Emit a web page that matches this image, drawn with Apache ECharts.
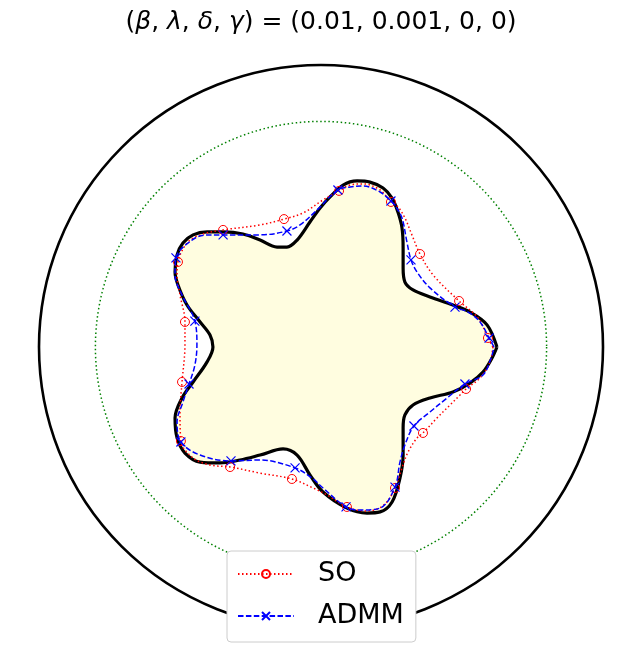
<!DOCTYPE html>
<html>
<head>
<meta charset="utf-8">
<script src="https://cdn.jsdelivr.net/npm/echarts@6.0.0/dist/echarts.min.js"></script>
<style>
  html, body { margin: 0; padding: 0; background: #fff; }
  #chart { width: 642px; height: 667px; }
</style>
</head>
<body>
<div id="chart"></div>
<script>
// parameters shown in the title
const paramNames = ['β', 'λ', 'δ', 'γ']
const paramValues = ['0.01', '0.001', '0', '0']

// circles (green dotted = 1, outer black = 1.25)
const innerRadius = 1
const outerRadius = 1.25

// target shape boundary, x / y in units of the green circle
const targetX = [0.780, 0.736, 0.660, 0.585, 0.483, 0.408, 0.372, 0.364, 0.364, 0.359, 0.341, 0.315, 0.275, 0.217, 0.160, 0.098,
  0.040, -0.004, -0.049, -0.106, -0.151, -0.195, -0.270, -0.346, -0.434, -0.505, -0.567, -0.612, -0.638, -0.647, -0.634, -0.594,
  -0.536, -0.492, -0.479, -0.505, -0.567, -0.616, -0.647, -0.638, -0.603, -0.536, -0.448, -0.359, -0.270, -0.168, -0.106, -0.049,
  0.009, 0.115, 0.204, 0.262, 0.315, 0.350, 0.364, 0.364, 0.372, 0.408, 0.483, 0.585, 0.660, 0.718, 0.758]
const targetY = [0, 0.098, 0.155, 0.186, 0.222, 0.253, 0.288, 0.350, 0.439, 0.528, 0.598, 0.660, 0.705, 0.731, 0.736, 0.718,
  0.665, 0.616, 0.554, 0.474, 0.443, 0.443, 0.474, 0.501, 0.510, 0.510, 0.497, 0.461, 0.408, 0.332, 0.275, 0.186,
  0.111, 0.053, 0, -0.066, -0.155, -0.226, -0.315, -0.403, -0.470, -0.510, -0.514, -0.501, -0.479, -0.452, -0.479, -0.567,
  -0.643, -0.714, -0.736, -0.731, -0.687, -0.581, -0.479, -0.359, -0.301, -0.257, -0.226, -0.199, -0.160, -0.111, -0.049]

// SO result
const soX = [0.762, 0.740, 0.696, 0.612, 0.497, 0.439, 0.403, 0.372, 0.341, 0.310, 0.262, 0.186, 0.129, 0.080, 0.009, -0.080,
  -0.164, -0.270, -0.434, -0.523, -0.590, -0.634, -0.638, -0.625, -0.603, -0.603, -0.616, -0.625, -0.621, -0.567, -0.492, -0.403,
  -0.270, -0.129, -0.035, 0.027, 0.115, 0.204, 0.279, 0.328, 0.359, 0.386, 0.426, 0.452, 0.514, 0.572, 0.616, 0.643, 0.705, 0.749]
const soY = [0, 0.040, 0.129, 0.204, 0.319, 0.412, 0.497, 0.572, 0.621, 0.643, 0.696, 0.723, 0.718, 0.692, 0.652, 0.594,
  0.567, 0.541, 0.519, 0.501, 0.465, 0.377, 0.319, 0.231, 0.111, 0.009, -0.155, -0.288, -0.417, -0.492, -0.523, -0.532,
  -0.559, -0.585, -0.625, -0.656, -0.709, -0.727, -0.700, -0.625, -0.536, -0.465, -0.403, -0.381, -0.315, -0.257, -0.213, -0.186, -0.137, -0.066]
const soMarks = [1, 3, 5, 9, 13, 16, 18, 21, 24, 26, 28, 31, 33, 36, 39, 43, 47]

// ADMM result
const admmX = [0.767, 0.745, 0.705, 0.652, 0.594, 0.483, 0.426, 0.399, 0.381, 0.359, 0.332, 0.310, 0.262, 0.186, 0.129, 0.075,
  -0.018, -0.093, -0.151, -0.270, -0.434, -0.505, -0.572, -0.643, -0.647, -0.616, -0.559, -0.550, -0.559, -0.585, -0.612, -0.638,
  -0.621, -0.536, -0.399, -0.270, -0.115, -0.040, 0.009, 0.111, 0.173, 0.262, 0.328, 0.350, 0.372, 0.412, 0.483, 0.559, 0.638, 0.718, 0.754]
const admmY = [0, 0.040, 0.111, 0.155, 0.177, 0.262, 0.332, 0.386, 0.465, 0.572, 0.621, 0.647, 0.687, 0.714, 0.709, 0.696,
  0.607, 0.541, 0.514, 0.497, 0.497, 0.497, 0.474, 0.395, 0.319, 0.231, 0.115, 0.009, -0.080, -0.164, -0.244, -0.332,
  -0.421, -0.479, -0.505, -0.501, -0.536, -0.581, -0.625, -0.709, -0.723, -0.714, -0.621, -0.510, -0.434, -0.350, -0.288, -0.226, -0.164, -0.124, -0.049]
const admmMarks = [1, 4, 7, 11, 15, 18, 20, 23, 26, 29, 32, 34, 36, 39, 42, 45, 48]

// closed curve -> polar [radius, angle] items, markers only on listed points
function toPolar(xs, ys, marks) {
  let pts = xs.map((x, i) => {
    let a = Math.atan2(ys[i], x) * 180 / Math.PI
    if (a < 0) a += 360
    let item = { value: [Math.hypot(x, ys[i]), a] }
    if (!marks || marks.indexOf(i) < 0) item.symbol = 'none'
    return item
  })
  pts.push({ value: pts[0].value.slice(), symbol: 'none' })
  return pts
}

let titleText = '(' + paramNames.map(n => '{i|' + n + '}').join(', ') + ') = (' + paramValues.join(', ') + ')'

let myChart = echarts.init(document.getElementById('chart'))
myChart.setOption({
  animation: false,
  title: {
    text: titleText,
    left: 'center',
    top: 5,
    textStyle: {
      fontFamily: 'DejaVu Sans',
      fontSize: 25,
      fontWeight: 'normal',
      color: '#000',
      rich: {
        i: { fontFamily: 'DejaVu Sans', fontSize: 25, fontStyle: 'italic', color: '#000' }
      }
    }
  },
  legend: {
    data: ['SO', 'ADMM'],
    orient: 'vertical',
    left: 227,
    top: 551,
    padding: [8, 12, 11, 10],
    itemWidth: 56,
    itemHeight: 10,
    itemGap: 12,
    selectedMode: false,
    backgroundColor: '#ffffff',
    borderColor: '#cccccc',
    borderWidth: 1,
    borderRadius: 4,
    textStyle: {
      fontFamily: 'DejaVu Sans',
      fontSize: 27,
      color: '#000',
      lineHeight: 30,
      padding: [0, 0, 0, 19]
    }
  },
  polar: {
    center: [321, 347],
    radius: [0, 282]
  },
  angleAxis: {
    type: 'value',
    min: 0,
    max: 360,
    startAngle: 0,
    clockwise: false,
    axisLine: { show: true, lineStyle: { color: '#000', width: 2.6 } },
    axisTick: { show: false },
    axisLabel: { show: false },
    splitLine: { show: false }
  },
  radiusAxis: {
    type: 'value',
    min: 0,
    max: outerRadius,
    interval: innerRadius,
    axisLine: { show: false },
    axisTick: { show: false },
    axisLabel: { show: false },
    splitLine: {
      show: true,
      lineStyle: {
        color: ['rgba(0,0,0,0)', '#008000', 'rgba(0,0,0,0)'],
        width: 1.5,
        type: [1.5, 2.6]
      }
    }
  },
  series: [
    {
      name: 'target',
      type: 'line',
      coordinateSystem: 'polar',
      data: toPolar(targetX, targetY),
      smooth: 0.35,
      symbol: 'none',
      showSymbol: false,
      clip: false,
      lineStyle: { color: '#000', width: 3.2 },
      areaStyle: { color: '#fffde0', opacity: 1 },
      z: 2
    },
    {
      name: 'SO',
      type: 'line',
      coordinateSystem: 'polar',
      data: toPolar(soX, soY, soMarks),
      smooth: 0.35,
      symbol: 'circle',
      symbolSize: 9,
      showSymbol: true,
      clip: false,
      itemStyle: { color: 'rgba(0,0,0,0)', borderColor: '#ff0000', borderWidth: 1 },
      lineStyle: { color: '#ff0000', width: 1.5, type: [1.5, 2.5] },
      z: 3
    },
    {
      name: 'ADMM',
      type: 'line',
      coordinateSystem: 'polar',
      data: toPolar(admmX, admmY, admmMarks),
      smooth: 0.35,
      symbol: 'path://M0,0L10,10M10,0L0,10',
      symbolSize: 9,
      showSymbol: true,
      clip: false,
      itemStyle: { color: 'rgba(0,0,0,0)', borderColor: '#0000ff', borderWidth: 1.2 },
      lineStyle: { color: '#0000ff', width: 1.5, type: [5.5, 2.4] },
      z: 4
    }
  ]
})
</script>
</body>
</html>
